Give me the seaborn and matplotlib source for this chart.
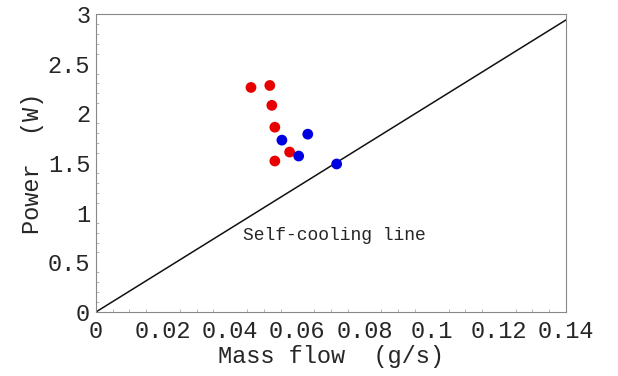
import matplotlib
matplotlib.use("Agg")
import matplotlib.pyplot as plt
import seaborn as sns
import pandas as pd
import numpy as np
from matplotlib.ticker import MultipleLocator

sns.set_style("white")
plt.rcParams['font.family'] = ['Liberation Mono', 'DejaVu Sans']

red_x = [0.0462, 0.0518, 0.0524, 0.0533, 0.0577, 0.0533]
red_y = [2.26, 2.28, 2.08, 1.86, 1.61, 1.52]
blue_x = [0.0554, 0.0631, 0.0604, 0.0717]
blue_y = [1.73, 1.79, 1.57, 1.49]
line_x = [0.0, 0.14]
line_y = [0.0, 2.94]
xticks = [0, 0.02, 0.04, 0.06, 0.08, 0.1, 0.12, 0.14]
xticklabels = ["0", "0.02", "0.04", "0.06", "0.08", "0.1", "0.12", "0.14"]
yticks = [0, 0.5, 1, 1.5, 2, 2.5, 3]
yticklabels = ["0", "0.5", "1", "1.5", "2", "2.5", "3"]

df = pd.DataFrame({
    "x": red_x + blue_x,
    "y": red_y + blue_y,
    "group": ["red"] * len(red_x) + ["blue"] * len(blue_x),
})
line_df = pd.DataFrame({"x": line_x, "y": line_y})

fig = plt.figure(figsize=(6.18, 3.76), dpi=100)
ax = fig.add_axes([0.155, 0.170, 0.761, 0.793])

sns.lineplot(data=line_df, x="x", y="y", ax=ax, color="#111111", linewidth=1.1)
sns.scatterplot(data=df, x="x", y="y", hue="group",
                palette={"red": "#e80000", "blue": "#0000e0"},
                s=60, edgecolor="none", ax=ax, legend=False, zorder=3)

ax.set_xlim(0, 0.14)
ax.set_ylim(0, 3)
ax.set_xticks(xticks)
ax.set_xticklabels(xticklabels)
ax.set_yticks(yticks)
ax.set_yticklabels(yticklabels)
ax.xaxis.set_minor_locator(MultipleLocator(0.005))
ax.yaxis.set_minor_locator(MultipleLocator(0.1))
ax.tick_params(axis="both", which="major", direction="in", length=5, width=0.8,
               color="#888888", labelsize=17, top=False, right=False)
ax.tick_params(axis="x", which="major", pad=6)
ax.tick_params(axis="y", which="major", pad=4)
ax.tick_params(axis="both", which="minor", direction="in", length=2.5, width=0.6,
               color="#aaaaaa", top=False, right=False, bottom=True, left=True)
for sp in ax.spines.values():
    sp.set_color("#888888")
    sp.set_linewidth(0.8)

ax.set_xlabel("Mass flow  (g/s)", fontsize=17, labelpad=1)
ax.set_ylabel("Power  (W)", fontsize=17, labelpad=3)
ax.text(0.0437, 0.775, "Self-cooling line", fontsize=13, va="center", ha="left")

fig.savefig("out.png", dpi=100)
